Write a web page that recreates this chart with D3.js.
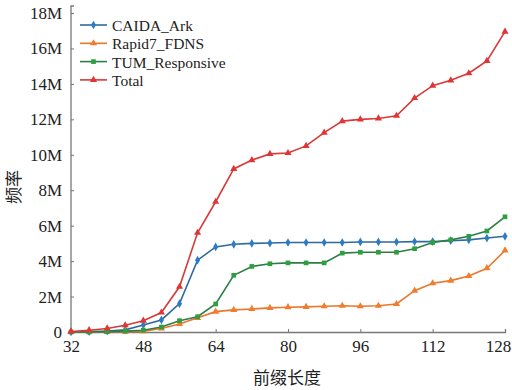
<!DOCTYPE html>
<html>
<head>
<meta charset="utf-8">
<script src="https://cdn.jsdelivr.net/npm/d3@7"></script>
<style>
    body { margin: 0; background: #fff; }
    svg text { font-family: "Liberation Serif", "DejaVu Serif", serif; fill: #222; }
</style>
</head>
<body>
<svg id="chart" width="512" height="390"></svg>
<script>
// prefix lengths, one point every 4
const prefixLengths = [32, 36, 40, 44, 48, 52, 56, 60, 64, 68, 72, 76, 80, 84, 88, 92, 96, 100, 104, 108, 112, 116, 120, 124, 128];

// values in millions
const caidaArk = [0, 0.02, 0.05, 0.12, 0.4, 0.68, 1.6, 4.05, 4.8, 4.95, 5.0, 5.02, 5.05, 5.05, 5.05, 5.05, 5.08, 5.08, 5.08, 5.1, 5.1, 5.15, 5.2, 5.3, 5.4];
const rapid7Fdns = [0, 0, 0, 0.02, 0.05, 0.2, 0.45, 0.8, 1.15, 1.25, 1.3, 1.36, 1.4, 1.42, 1.45, 1.48, 1.45, 1.48, 1.58, 2.33, 2.75, 2.9, 3.16, 3.6, 4.6];
const tumResponsive = [0, 0, 0.02, 0.05, 0.1, 0.28, 0.64, 0.86, 1.58, 3.2, 3.7, 3.85, 3.9, 3.9, 3.9, 4.45, 4.5, 4.5, 4.5, 4.7, 5.05, 5.2, 5.4, 5.7, 6.5];
const total = [0.03, 0.1, 0.2, 0.38, 0.64, 1.1, 2.55, 5.6, 7.35, 9.2, 9.7, 10.05, 10.1, 10.5, 11.25, 11.9, 12.0, 12.05, 12.2, 13.2, 13.9, 14.2, 14.6, 15.3, 16.95];

const xTicks = [32, 48, 64, 80, 96, 112, 128];
const yTicks = [0, 2, 4, 6, 8, 10, 12, 14, 16, 18];

const seriesList = [
    { name: 'CAIDA_Ark', values: caidaArk, color: '#2b7cc4', line: '#2f6a9c', symbol: d3.symbolDiamond },
    { name: 'Rapid7_FDNS', values: rapid7Fdns, color: '#f27c2c', line: '#e8782e', symbol: d3.symbolTriangle },
    { name: 'TUM_Responsive', values: tumResponsive, color: '#2f9e3e', line: '#2c7e45', symbol: d3.symbolSquare },
    { name: 'Total', values: total, color: '#e23434', line: '#d83a3a', symbol: d3.symbolTriangle }
];

const svg = d3.select('#chart');

const x = d3.scaleLinear().domain([32, 128]).range([71, 505]);
const y = d3.scaleLinear().domain([0, 18]).range([332, 13]);

// axes
const xAxis = d3.axisBottom(x).tickValues(xTicks).tickSize(-3).tickPadding(8).tickFormat(d3.format('d'));
const yAxis = d3.axisLeft(y).tickValues(yTicks).tickSize(-3).tickPadding(9)
    .tickFormat(d => d === 0 ? '0' : d + 'M');

svg.append('g')
    .attr('transform', 'translate(0,332)')
    .call(xAxis)
    .call(g => g.select('.domain').attr('stroke', '#777').attr('stroke-width', 1.3))
    .call(g => g.selectAll('line').attr('stroke', '#777'))
    .call(g => g.selectAll('text').attr('font-size', 17).attr('font-family', '"Liberation Serif", serif').attr('fill', '#222'))
    // keep the last label inside the picture
    .call(g => g.selectAll('.tick').filter(d => d === 128).select('text').attr('dx', -7));

svg.append('g')
    .attr('transform', 'translate(71,0)')
    .call(yAxis)
    .call(g => g.select('.domain').attr('d', 'M3,6H0V332').attr('stroke', '#777').attr('stroke-width', 1.3))
    .call(g => g.selectAll('line').attr('stroke', '#777'))
    .call(g => g.selectAll('text').attr('font-size', 17).attr('font-family', '"Liberation Serif", serif').attr('fill', '#222'));

// axis titles
svg.append('text')
    .attr('x', 287).attr('y', 384)
    .attr('text-anchor', 'middle')
    .attr('font-size', 17)
    .style('font-family', '"Noto Sans CJK SC", sans-serif')
    .text('前缀长度');

svg.append('text')
    .attr('transform', 'translate(20,187) rotate(-90)')
    .attr('text-anchor', 'middle')
    .attr('font-size', 17)
    .style('font-family', '"Noto Sans CJK SC", sans-serif')
    .text('频率');

// lines + markers
const lineGen = d3.line()
    .x((d, i) => x(prefixLengths[i]))
    .y(d => y(d));

seriesList.forEach(s => {
    svg.append('path')
        .datum(s.values)
        .attr('fill', 'none')
        .attr('stroke', s.line)
        .attr('stroke-width', 1.6)
        .attr('d', lineGen);

    svg.append('g')
        .selectAll('path')
        .data(s.values)
        .join('path')
        .attr('transform', (d, i) => `translate(${x(prefixLengths[i])},${y(d)})`)
        .attr('d', d3.symbol().type(s.symbol).size(22))
        .attr('fill', s.color);
});

// legend
const legend = svg.append('g');
seriesList.forEach((s, i) => {
    const ly = 25 + i * 18.3;
    legend.append('line')
        .attr('x1', 80).attr('x2', 107)
        .attr('y1', ly).attr('y2', ly)
        .attr('stroke', s.line)
        .attr('stroke-width', 1.6);
    legend.append('path')
        .attr('transform', `translate(93.5,${ly})`)
        .attr('d', d3.symbol().type(s.symbol).size(22))
        .attr('fill', s.color);
    legend.append('text')
        .attr('x', 112).attr('y', ly + 6)
        .attr('font-size', 15.5)
        .text(s.name);
});
</script>
</body>
</html>
